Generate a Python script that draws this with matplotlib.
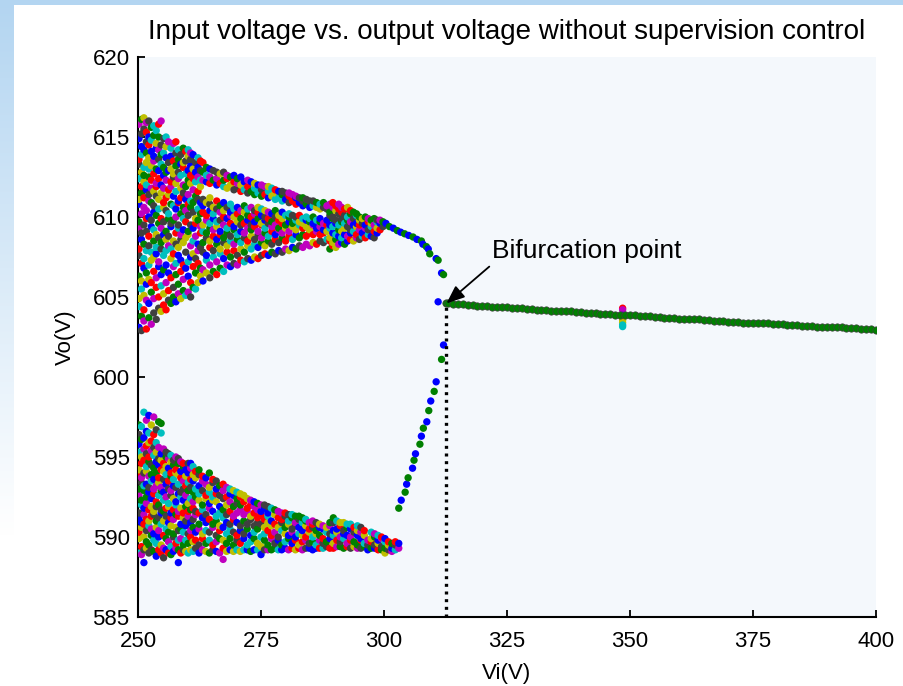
import matplotlib
matplotlib.use('Agg')
import matplotlib.pyplot as plt
import numpy as np
from matplotlib.patches import Rectangle

# ---- data ----
# upper chaotic band: one Vi column -> list of Vo samples
upper_vi = [250.2, 250.7, 251.2, 251.7, 252.2, 252.7, 253.2, 253.7, 254.2, 254.7,
            255.2, 255.7, 256.2, 256.7, 257.2, 257.7, 258.2, 258.7, 259.2, 259.7,
            260.2, 260.7, 261.2, 261.7, 262.2, 262.7,
            263.2, 263.9, 264.6, 265.3, 266.0, 266.7, 267.4, 268.1, 268.8, 269.5,
            270.2, 270.9, 271.6, 272.3, 273.0, 273.7, 274.4, 275.1, 275.8, 276.5,
            277.2, 277.9, 278.6, 279.3, 280.0, 280.7, 281.4, 282.1, 282.8, 283.5,
            284.2, 284.9, 285.6, 286.3, 287.0, 287.7, 288.4,
            289.0, 289.6, 290.2, 290.8, 291.4, 292.0, 292.6, 293.2, 293.8, 294.4,
            295.0, 295.6, 296.2, 296.8, 297.4, 298.0, 298.6, 299.2, 299.8]
upper_vo = [
    [603.1, 604.4, 604.9, 606.3, 607.6, 608.0, 609.3, 609.7, 610.8, 611.1, 612.4, 613.3, 613.6, 614.9, 615.8],
    [602.9, 603.8, 605.5, 606.0, 607.1, 608.6, 609.0, 610.2, 611.5, 611.9, 612.8, 613.9, 614.4, 615.2, 616.1],
    [603.5, 604.2, 605.1, 606.8, 607.4, 608.3, 609.5, 610.6, 611.2, 612.2, 612.6, 613.1, 614.2, 615.5, 616.2],
    [603.0, 604.8, 605.8, 606.5, 607.9, 609.1, 609.9, 610.4, 611.7, 612.0, 613.4, 614.0, 614.7, 615.3, 615.9],
    [603.7, 604.6, 606.1, 607.0, 608.2, 608.8, 610.0, 611.0, 611.4, 612.5, 613.0, 613.7, 614.5, 615.0, 616.0],
    [603.3, 605.3, 605.9, 607.3, 607.8, 609.4, 609.8, 610.9, 611.8, 612.3, 613.2, 614.1, 614.8, 615.6],
    [604.0, 604.9, 606.6, 607.5, 608.5, 609.2, 610.3, 610.7, 611.6, 612.7, 613.5, 613.8, 615.1, 615.7],
    [603.6, 605.6, 606.2, 607.7, 608.1, 608.9, 610.1, 611.3, 611.9, 612.1, 613.0, 614.3, 614.6, 615.4],
    [604.3, 605.0, 606.9, 607.2, 608.7, 609.6, 610.5, 611.1, 612.4, 612.9, 613.6, 614.2, 615.0, 615.8],
    [604.1, 605.7, 606.4, 608.0, 608.4, 609.3, 609.9, 611.5, 612.0, 613.3, 613.9, 614.5, 616.0],
    [604.5, 605.2, 606.7, 607.6, 608.9, 609.7, 610.6, 610.9, 611.8, 612.6, 613.1, 614.0, 614.9],
    [604.2, 605.9, 607.0, 607.9, 608.6, 609.1, 610.4, 611.2, 612.3, 612.8, 613.7, 614.4, 615.0],
    [604.8, 605.4, 606.5, 608.2, 608.8, 609.9, 610.2, 611.4, 611.7, 612.9, 613.4, 614.7],
    [604.6, 606.2, 607.4, 608.0, 609.4, 609.6, 610.8, 611.9, 612.2, 613.0, 613.8, 614.3],
    [605.0, 605.6, 606.9, 607.7, 608.5, 609.8, 610.7, 611.3, 612.5, 612.7, 613.5, 614.6],
    [604.7, 606.4, 607.1, 608.3, 609.0, 610.0, 610.5, 611.6, 612.1, 613.2, 614.0, 614.7],
    [605.2, 605.8, 607.6, 608.1, 609.3, 609.5, 610.9, 611.0, 612.4, 612.8, 613.6, 614.2],
    [604.9, 606.6, 607.3, 608.6, 608.9, 610.2, 611.2, 611.8, 612.6, 613.3, 613.9],
    [605.4, 606.1, 607.0, 608.4, 609.2, 609.9, 610.6, 611.5, 612.0, 613.1, 613.4, 614.3],
    [605.1, 606.8, 607.8, 608.7, 609.7, 610.4, 611.1, 611.9, 612.7, 613.5, 614.1],
    [605.3, 606.3, 607.2, 608.9, 609.1, 610.1, 610.8, 611.4, 612.3, 612.9, 613.8, 614.2],
    [605.0, 605.9, 607.5, 608.2, 609.5, 610.6, 611.0, 612.1, 612.6, 613.2, 613.6, 614.0],
    [605.6, 606.9, 607.7, 608.5, 609.3, 610.3, 610.9, 611.7, 612.4, 613.0, 613.9],
    [605.5, 606.5, 607.4, 608.8, 609.6, 609.9, 611.3, 612.2, 612.8, 613.4],
    [605.9, 607.1, 607.9, 608.3, 609.8, 610.5, 611.1, 611.6, 612.5, 613.1, 613.7],
    [606.3, 606.8, 608.1, 609.0, 609.4, 610.2, 610.9, 611.9, 612.3, 612.9, 613.5],
    [606.0, 606.7, 607.8, 608.4, 609.1, 609.5, 610.3, 610.7, 611.1, 612.3, 612.8, 613.4],
    [606.5, 607.3, 607.6, 608.7, 609.0, 609.8, 610.1, 610.9, 612.2, 612.6, 613.1],
    [606.2, 607.0, 608.1, 608.5, 609.3, 609.6, 610.4, 610.8, 611.2, 612.1, 612.5, 613.0],
    [606.6, 607.5, 607.9, 608.8, 609.2, 609.9, 610.2, 610.6, 612.3, 612.9],
    [606.4, 607.2, 608.3, 608.6, 609.4, 609.7, 610.5, 611.0, 612.0, 612.4, 612.8],
    [606.8, 607.7, 608.0, 608.9, 609.1, 609.8, 610.3, 610.7, 612.1, 612.7],
    [606.6, 607.4, 608.4, 608.7, 609.5, 610.0, 610.4, 610.9, 611.9, 612.3, 612.8],
    [607.0, 607.8, 608.2, 609.0, 609.3, 609.9, 610.6, 611.8, 612.4, 612.6],
    [606.9, 607.5, 608.5, 608.8, 609.6, 610.1, 610.3, 610.8, 612.0, 612.5],
    [607.1, 607.9, 608.3, 609.2, 609.4, 610.0, 610.5, 611.7, 612.2, 612.6],
    [607.0, 607.6, 608.6, 608.9, 609.7, 610.2, 610.6, 611.8, 612.1, 612.4],
    [607.3, 608.0, 608.4, 609.1, 609.5, 609.9, 610.4, 611.6, 612.0, 612.5],
    [607.2, 607.8, 608.7, 609.0, 609.6, 610.3, 610.7, 611.7, 612.2],
    [607.4, 608.2, 608.5, 609.3, 609.8, 610.1, 610.5, 611.5, 611.9, 612.3],
    [607.3, 608.0, 608.8, 609.2, 609.5, 610.0, 610.6, 611.6, 612.2],
    [607.5, 608.3, 608.6, 609.4, 609.7, 610.2, 610.4, 611.4, 611.8, 612.1],
    [607.4, 608.1, 608.9, 609.1, 609.9, 610.3, 610.6, 611.5, 612.0],
    [607.6, 608.4, 608.7, 609.5, 609.6, 610.1, 610.5, 611.3, 611.7, 612.0],
    [607.7, 608.2, 609.0, 609.3, 609.8, 610.0, 610.4, 611.4, 611.9],
    [607.6, 608.5, 608.8, 609.6, 609.9, 610.3, 611.2, 611.6, 611.9],
    [607.8, 608.3, 609.1, 609.4, 609.7, 610.2, 611.3, 611.8],
    [607.7, 608.6, 608.9, 609.5, 610.0, 610.4, 611.1, 611.5, 611.7],
    [607.9, 608.4, 609.2, 609.3, 609.8, 610.1, 611.2, 611.6],
    [607.8, 608.7, 609.0, 609.6, 609.9, 610.3, 611.0, 611.4, 611.6],
    [608.0, 608.5, 609.3, 609.5, 610.1, 611.1, 611.5],
    [607.9, 608.8, 609.1, 609.7, 610.0, 610.2, 610.9, 611.3, 611.5],
    [608.1, 608.6, 609.4, 609.6, 610.1, 611.0, 611.4],
    [608.0, 608.9, 609.2, 609.8, 610.0, 610.8, 611.2, 611.3],
    [608.2, 608.7, 609.5, 609.7, 610.1, 610.9, 611.2],
    [608.1, 608.9, 609.3, 609.6, 609.9, 610.7, 611.0, 611.2],
    [608.3, 608.8, 609.4, 609.8, 610.0, 610.8, 611.1],
    [608.2, 609.0, 609.2, 609.7, 609.9, 610.6, 611.0],
    [608.4, 608.9, 609.5, 609.6, 610.0, 610.7, 611.0],
    [608.3, 609.1, 609.3, 609.8, 610.6, 610.9],
    [608.5, 608.9, 609.4, 609.7, 609.9, 610.5, 610.8],
    [608.4, 609.0, 609.2, 609.6, 610.6, 610.9],
    [608.6, 609.1, 609.5, 609.8, 610.5, 610.7],
    [608.0, 608.5, 608.7, 609.3, 609.5, 610.1, 610.3, 610.8],
    [608.2, 608.4, 609.0, 609.4, 609.9, 610.0, 610.6, 610.9],
    [608.1, 608.6, 608.9, 609.6, 609.8, 610.4, 610.7],
    [608.3, 608.8, 609.2, 609.5, 610.2, 610.5, 610.8],
    [608.4, 608.7, 609.1, 609.7, 609.9, 610.3, 610.6],
    [608.3, 608.9, 609.3, 609.6, 610.1, 610.5],
    [608.5, 608.8, 609.4, 609.8, 610.0, 610.6],
    [608.6, 609.0, 609.2, 609.7, 610.2, 610.4],
    [608.5, 609.1, 609.5, 609.9, 610.3],
    [608.7, 608.9, 609.4, 609.6, 610.1, 610.2],
    [608.6, 609.2, 609.5, 609.8, 610.0],
    [608.8, 609.0, 609.6, 609.9],
    [608.7, 609.3, 609.5, 610.0],
    [608.9, 609.2, 609.7, 609.9],
    [608.8, 609.4, 609.6, 609.8],
    [608.7, 609.1, 609.5, 609.9],
    [609.0, 609.3, 609.7, 609.8],
    [609.2, 609.6, 609.8],
    [609.4, 609.7],
]

# lower chaotic band
lower_vi = [250.2, 250.7, 251.2, 251.7, 252.2, 252.7, 253.2, 253.7, 254.2, 254.7,
            255.2, 255.7, 256.2, 256.7, 257.2, 257.7, 258.2, 258.7, 259.2, 259.7,
            260.2, 260.7, 261.2, 261.7,
            262.4, 263.1, 263.8, 264.5, 265.2, 265.9, 266.6, 267.3, 268.0, 268.7,
            269.4, 270.1, 270.8, 271.5, 272.2, 272.9, 273.6, 274.3, 275.0, 275.7,
            276.4, 277.1, 277.8, 278.5, 279.2, 279.9, 280.6, 281.3, 282.0, 282.7,
            283.4, 284.1, 284.8, 285.5, 286.2, 286.9, 287.6, 288.3, 289.0, 289.7,
            290.4, 291.1, 291.8, 292.5, 293.2, 293.9, 294.6, 295.3, 296.0, 296.7,
            297.4, 298.1, 298.8, 299.5, 300.2, 300.9, 301.6, 302.3, 303.0]
lower_vo = [
    [589.0, 589.9, 590.3, 591.2, 591.5, 592.6, 593.0, 593.9, 594.2, 595.3, 595.8, 596.4, 597.0],
    [588.9, 589.4, 590.6, 590.9, 592.0, 592.3, 593.4, 593.7, 594.6, 595.0, 596.1, 596.9],
    [588.4, 589.2, 590.0, 590.8, 591.4, 591.8, 592.9, 593.2, 594.0, 594.8, 595.5, 596.2, 597.8],
    [589.3, 589.7, 590.4, 591.1, 592.1, 592.5, 593.3, 594.1, 594.4, 595.2, 595.7, 596.6, 597.3],
    [589.0, 589.5, 590.7, 591.0, 591.7, 592.8, 593.1, 593.8, 594.7, 595.0, 595.9, 596.5, 597.6],
    [589.2, 590.1, 590.5, 591.3, 591.9, 592.4, 593.5, 593.9, 594.5, 595.4, 596.0, 597.0],
    [589.1, 589.8, 590.2, 591.4, 591.6, 592.7, 593.0, 593.6, 594.3, 595.1, 595.6, 596.4, 597.5],
    [588.8, 589.6, 590.6, 591.0, 591.9, 592.2, 593.2, 594.0, 594.7, 595.3, 595.9, 596.7],
    [589.2, 590.0, 590.4, 591.2, 592.0, 592.6, 593.4, 593.7, 594.5, 594.9, 595.6, 597.2],
    [589.0, 589.5, 590.8, 591.5, 591.7, 592.9, 593.1, 594.2, 594.8, 595.2, 596.5, 597.1],
    [588.7, 589.3, 590.1, 591.0, 591.6, 592.3, 592.8, 593.6, 594.1, 594.6, 595.5],
    [589.2, 589.9, 590.5, 591.3, 591.8, 592.5, 593.3, 593.9, 594.4, 595.0, 595.3],
    [589.0, 589.7, 590.3, 590.9, 591.9, 592.1, 593.0, 593.5, 594.3, 594.9, 595.2],
    [588.9, 589.4, 590.7, 591.2, 591.5, 592.6, 592.9, 593.8, 594.0, 594.7, 595.1],
    [589.1, 590.0, 590.2, 591.1, 591.7, 592.4, 593.2, 593.6, 594.5, 594.8],
    [589.3, 589.6, 590.6, 591.4, 592.0, 592.2, 593.1, 594.0, 594.2, 595.0],
    [588.4, 589.2, 589.8, 590.4, 591.3, 591.6, 592.7, 593.3, 593.9, 594.6, 594.9],
    [589.0, 589.9, 590.5, 590.8, 591.8, 592.5, 592.8, 593.7, 594.1, 594.7],
    [589.2, 589.5, 590.3, 591.2, 591.5, 592.3, 593.0, 593.5, 594.4, 594.6],
    [589.1, 589.8, 590.7, 591.0, 591.9, 592.6, 593.2, 593.8, 594.2],
    [589.0, 589.6, 590.2, 591.3, 591.6, 592.1, 592.9, 593.4, 594.0, 594.6],
    [589.2, 590.0, 590.4, 590.9, 591.7, 592.4, 593.1, 593.6, 594.3, 594.6],
    [589.1, 589.7, 590.6, 591.1, 591.8, 592.2, 592.8, 593.5, 593.9, 594.4],
    [589.3, 589.8, 590.3, 591.4, 591.6, 592.5, 593.0, 593.7, 594.1],
    [589.0, 589.5, 590.5, 590.8, 591.5, 592.3, 592.7, 593.2, 593.9, 594.2],
    [589.2, 589.9, 590.2, 591.2, 591.7, 592.0, 592.9, 593.5, 593.8],
    [589.1, 589.6, 590.4, 590.9, 591.4, 592.4, 592.6, 593.3, 593.7],
    [589.0, 589.8, 590.3, 591.1, 591.8, 592.1, 592.8, 593.1, 594.0],
    [589.2, 589.5, 590.6, 590.8, 591.6, 592.3, 592.5, 593.4, 593.6],
    [589.1, 589.7, 590.1, 591.0, 591.3, 592.2, 592.7, 593.0, 593.5],
    [589.0, 589.9, 590.4, 590.7, 591.5, 591.9, 592.6, 593.2],
    [588.6, 589.3, 589.8, 590.6, 591.2, 591.7, 592.4, 592.9, 593.3],
    [589.1, 589.6, 590.2, 590.9, 591.4, 592.0, 592.5, 593.1],
    [589.2, 589.9, 590.5, 590.8, 591.6, 592.2, 592.7, 593.0],
    [589.1, 589.5, 590.3, 591.1, 591.3, 591.9, 592.6, 592.9],
    [589.2, 589.8, 590.1, 590.9, 591.5, 592.1, 592.4, 592.8],
    [589.1, 589.6, 590.4, 590.7, 591.7, 592.0, 592.5, 592.7],
    [589.2, 589.9, 590.2, 591.0, 591.4, 592.2, 592.6],
    [589.2, 589.5, 590.5, 590.8, 591.6, 591.8, 592.4],
    [589.1, 589.7, 590.1, 591.1, 591.3, 592.0, 592.3],
    [589.2, 589.9, 590.3, 590.7, 591.5, 591.9, 592.2],
    [589.2, 589.6, 590.5, 590.9, 591.2, 591.7, 592.1],
    [588.9, 589.4, 590.0, 590.8, 591.4, 591.6, 592.0],
    [589.2, 589.8, 590.2, 590.6, 591.1, 591.8, 592.0],
    [589.2, 589.5, 590.4, 590.9, 591.3, 591.5, 591.9],
    [589.2, 589.9, 590.1, 590.7, 591.0, 591.8],
    [589.3, 589.6, 590.3, 590.8, 591.4, 591.7],
    [589.2, 589.8, 590.0, 590.6, 591.2, 591.6],
    [589.2, 589.5, 590.4, 590.9, 591.1, 591.5],
    [589.3, 589.7, 590.2, 590.6, 591.3, 591.5],
    [589.2, 589.9, 590.1, 590.8, 591.0, 591.4],
    [589.3, 589.6, 590.3, 590.5, 591.2, 591.4],
    [589.2, 589.8, 590.0, 590.7, 590.9, 591.3],
    [589.3, 589.5, 590.2, 590.6, 591.1, 591.3],
    [589.2, 589.7, 590.1, 590.4, 590.9, 591.2],
    [589.3, 589.8, 590.0, 590.7, 591.0, 591.1],
    [589.3, 589.6, 590.3, 590.5, 590.9],
    [589.2, 589.7, 590.0, 590.6, 590.8, 591.0],
    [589.3, 589.5, 590.2, 590.4, 590.9],
    [589.3, 589.8, 590.1, 590.6, 590.8],
    [589.3, 589.6, 589.9, 590.5, 590.7],
    [589.4, 589.7, 590.3, 590.6],
    [589.3, 589.9, 590.2, 590.7, 590.9],
    [589.3, 589.6, 590.1, 590.4, 590.9, 591.2],
    [589.4, 589.8, 590.3, 590.5, 591.0],
    [589.4, 589.7, 590.0, 590.7, 590.9],
    [589.3, 589.9, 590.2, 590.4, 590.9],
    [589.4, 589.6, 590.1, 590.6, 590.8],
    [589.3, 589.8, 590.0, 590.5, 590.8],
    [589.4, 589.7, 590.3, 590.6],
    [589.3, 589.5, 590.1, 590.4, 590.7],
    [589.3, 589.8, 589.9, 590.3, 590.6],
    [589.4, 589.6, 590.1, 590.4],
    [589.2, 589.5, 589.8],
    [589.3, 589.7, 589.9, 590.3],
    [589.3, 589.5, 590.0, 590.2],
    [589.2, 589.6, 589.8, 590.1],
    [589.2, 589.4, 589.9, 590.0],
    [589.0, 589.3, 589.7, 589.9],
    [589.2, 589.5, 589.7],
    [589.1, 589.3, 589.6],
    [589.2, 589.5, 589.7],
    [589.3, 589.6],
]

# upper branch after the chaos, falling towards the bifurcation
tail_vi = [300.4, 301.1, 301.9, 302.7, 303.4, 304.2, 305.0, 305.9, 306.7, 307.6,
           307.9, 308.6, 309.0, 309.3, 310.6, 311.0, 311.7, 312.1, 311.0]
tail_vo = [609.6, 609.4, 609.3, 609.15, 609.05, 608.95, 608.85, 608.75, 608.6, 608.5,
           608.3, 608.15, 608.0, 607.7, 607.4, 607.3, 606.5, 606.4, 604.7]

# lower branch climbing up to the bifurcation
rise_vi = [303.0, 303.5, 304.3, 304.6, 304.9, 305.8, 306.1, 306.4, 307.3, 307.6,
           308.0, 308.7, 309.1, 309.5, 310.2, 310.6, 311.7, 312.1]
rise_vo = [591.8, 592.3, 592.8, 593.3, 593.7, 594.3, 594.8, 595.2, 595.8, 596.3,
           596.8, 597.2, 597.9, 598.5, 599.1, 599.7, 601.1, 602.0]

# stable period-1 line, Vi 312.7 .. 400 (sweep step 1 V)
stable_vi = [312.7] + list(range(313, 401))
stable_vo = [604.6, 604.6, 604.55, 604.55, 604.55, 604.5, 604.5, 604.45, 604.45, 604.45, 604.4,
             604.4, 604.35, 604.35, 604.3, 604.3, 604.3, 604.25, 604.25, 604.2, 604.2,
             604.2, 604.15, 604.15, 604.1, 604.1, 604.1, 604.05, 604.05, 604.0, 604.0,
             604.0, 603.95, 603.95, 603.95, 603.9, 603.9, 603.9, 603.85, 603.85, 603.8,
             603.8, 603.8, 603.75, 603.75, 603.7, 603.7, 603.7, 603.65, 603.65, 603.6,
             603.6, 603.6, 603.55, 603.55, 603.5, 603.5, 603.5, 603.45, 603.45, 603.45,
             603.4, 603.4, 603.4, 603.35, 603.35, 603.35, 603.3, 603.3, 603.3, 603.25,
             603.25, 603.25, 603.2, 603.2, 603.2, 603.15, 603.15, 603.15, 603.1, 603.1,
             603.1, 603.05, 603.05, 603.05, 603.0, 603.0, 603.0, 602.95]

# small transient spike on the stable line
spike_vi = 348.5
spike_vo = [604.3, 604.2, 603.85, 603.7, 603.55, 603.4, 603.25, 603.15]

bif_vi = 312.7
bif_vo = 604.6

xticks = [250, 275, 300, 325, 350, 375, 400]
yticks = [585, 590, 595, 600, 605, 610, 615, 620]

# ---- styling ----
plt.rcParams['font.family'] = ['Liberation Sans', 'DejaVu Sans']

# MATLAB's old colour order: b g r c m y k(dark grey)
palette = ['#0000ff', '#008000', '#ff0000', '#00bfbf', '#bf00bf', '#bfbf00', '#404040']
# fixed mixing order so neighbouring dots don't share a colour
mix = [0, 3, 5, 1, 6, 2, 4, 1, 0, 5, 3, 6, 2, 0, 4, 6, 1, 3, 5, 2, 0, 6, 4, 1, 2, 5,
       3, 0, 6, 1, 4, 2, 5, 0, 3, 1, 6, 4, 2, 5, 1, 3, 0, 6, 5, 2, 4, 0, 1, 3, 6, 2, 4]
DOT = 28


def flatten(vis, vos, shift):
    xs, ys, cs = [], [], []
    k = shift
    for vi, col in zip(vis, vos):
        for vo in col:
            xs.append(vi)
            ys.append(vo)
            cs.append(palette[mix[k % len(mix)]])
            k += 1
    return xs, ys, cs


fig = plt.figure(figsize=(9.04, 6.86), dpi=100)
fig.patch.set_facecolor('white')

# slide-like blue frame: top strip + fading left strip
grad = np.linspace(0, 1, 256).reshape(-1, 1)
top_rgb = np.array([179, 213, 241]) / 255.0
img = np.clip(grad / 0.78, 0, 1)
img = top_rgb + (1 - top_rgb) * img[..., None]
bg = fig.add_axes([0, 0, 14 / 904, 1])
bg.imshow(img, aspect='auto', extent=[0, 1, 0, 1])
bg.set_axis_off()
fig.add_artist(Rectangle((0, 1 - 5 / 686), 1, 5 / 686, transform=fig.transFigure,
                         color='#b3d5f1', lw=0, zorder=5))

ax = fig.add_axes([138 / 904, 69 / 686, 738 / 904, 560 / 686])
ax.set_facecolor('#f4f8fc')

x, y, c = flatten(upper_vi, upper_vo, 0)
ax.scatter(x, y, s=DOT, c=c, linewidths=0, zorder=3)
x, y, c = flatten(lower_vi, lower_vo, 17)
ax.scatter(x, y, s=DOT, c=c, linewidths=0, zorder=3)

ax.scatter(tail_vi, tail_vo, s=DOT, linewidths=0, zorder=3,
           c=[('#0000ff', '#008000')[i % 2] for i in range(len(tail_vi))])
ax.scatter(rise_vi, rise_vo, s=DOT, linewidths=0, zorder=3,
           c=[('#008000', '#0000ff')[i % 2] for i in range(len(rise_vi))])

ax.scatter([spike_vi] * len(spike_vo), spike_vo, s=DOT, linewidths=0, zorder=3,
           c=['#ff0000', '#bf00bf', '#0000ff', '#0000ff', '#bfbf00', '#bfbf00', '#00bfbf', '#00bfbf'])
ax.scatter(stable_vi, stable_vo, s=DOT, c='#008000', edgecolors='#404040',
           linewidths=0.5, zorder=4)

# dotted marker of the bifurcation voltage
ax.plot([bif_vi, bif_vi], [585, bif_vo], color='black', lw=2.4,
        linestyle=(0, (0.9, 1.4)), zorder=5)

ax.annotate('', xy=(bif_vi, bif_vo), xytext=(321.4, 606.9),
            arrowprops=dict(arrowstyle='-|>,head_length=1.1,head_width=0.45',
                            color='black', lw=1.3, shrinkA=0, shrinkB=0),
            zorder=6)
ax.text(322.0, 607.9, 'Bifurcation point', fontsize=19, ha='left', va='center')

ax.set_xlim(250, 400)
ax.set_ylim(585, 620)
ax.set_xticks(xticks)
ax.set_yticks(yticks)
ax.tick_params(direction='in', length=5, width=1.3, labelsize=16)
ax.tick_params(axis='x', pad=10)
ax.tick_params(axis='y', pad=6)
for side in ('top', 'right'):
    ax.spines[side].set_visible(False)
for side in ('left', 'bottom'):
    ax.spines[side].set_linewidth(1.5)

ax.set_xlabel('Vi(V)', fontsize=16, labelpad=8)
ax.set_ylabel('Vo(V)', fontsize=16, labelpad=12)
ax.set_title('Input voltage vs. output voltage without supervision control',
             fontsize=20, pad=13)

fig.savefig('out.png', dpi=100, facecolor=fig.get_facecolor())
